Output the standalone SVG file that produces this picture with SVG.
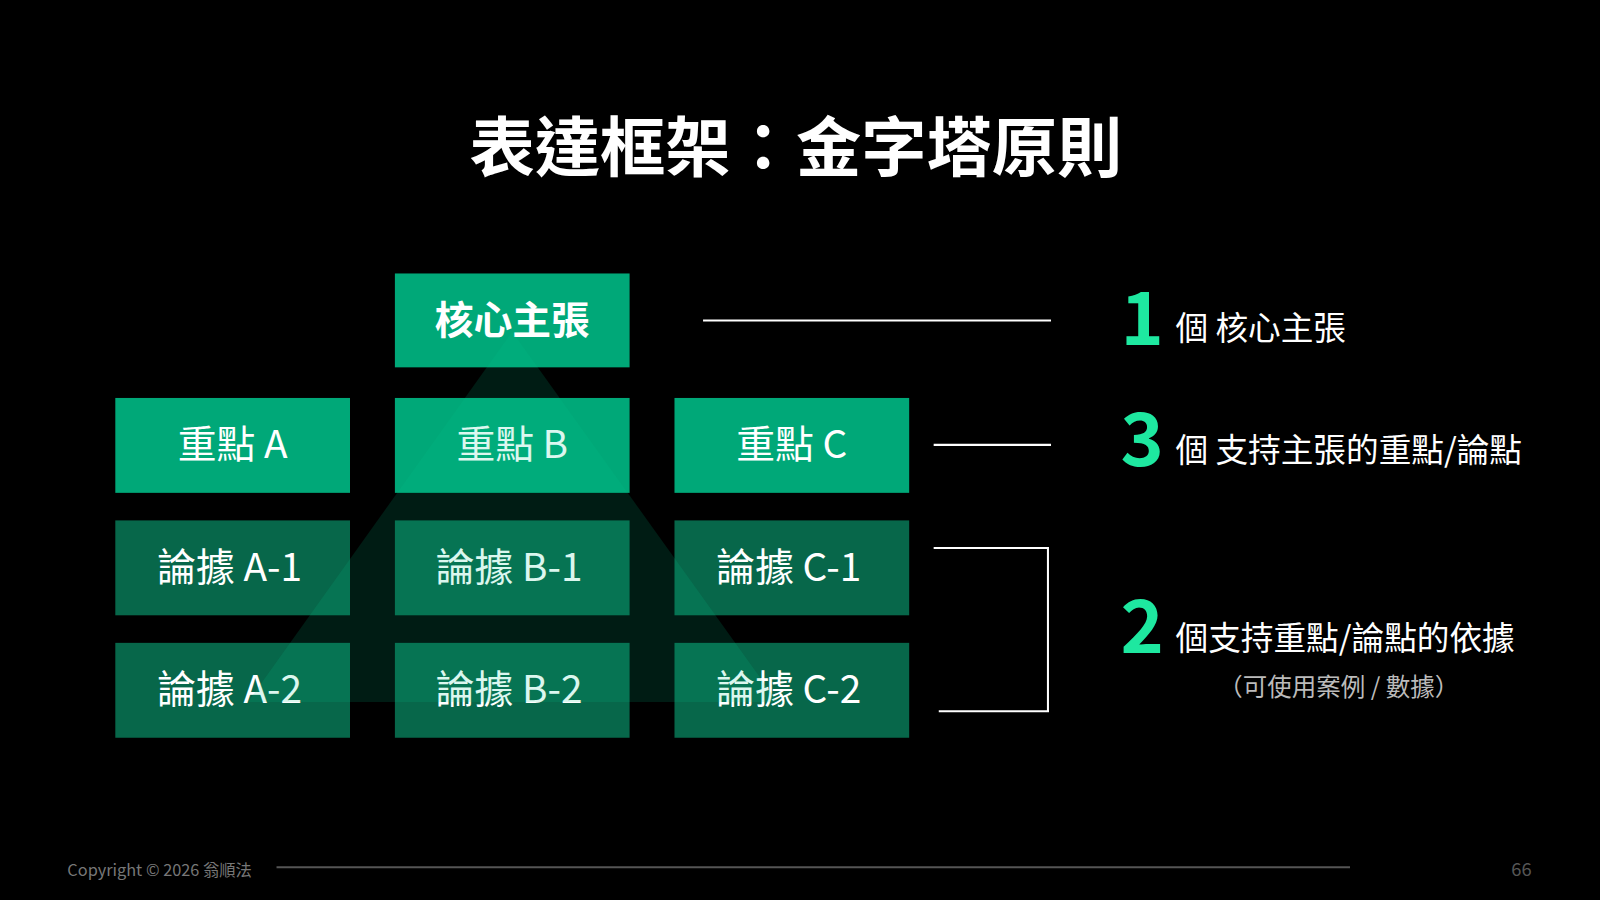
<svg xmlns="http://www.w3.org/2000/svg" width="1600" height="900" viewBox="0 0 1600 900">
<style>
text{font-family:"Noto Sans CJK TC","Noto Sans",sans-serif;fill:#fff}
.hi{fill:#00a878}.lo{fill:#07674a}
.bt{font-size:38px;text-anchor:middle}
.num{font-size:72px;font-weight:bold;fill:#1ee8a0}
.lab{font-size:32px}
.ln{stroke:#fff;stroke-width:2;fill:none}
</style>
<rect width="1600" height="900" fill="#000"/>
<g transform="scale(1.0204)">
<text x="780" y="168" font-size="64" font-weight="bold" text-anchor="middle">表達框架：金字塔原則</text>
<g id="top"><rect class="hi" x="387" y="268" width="230" height="92"/><text class="bt" x="502" y="327" font-weight="bold">核心主張</text></g>
<g id="pA"><rect class="hi" x="113" y="390" width="230" height="93"/><text class="bt" x="228" y="449">重點 A</text></g>
<g id="pB"><rect class="hi" x="387" y="390" width="230" height="93"/><text class="bt" x="502" y="449">重點 B</text></g>
<g id="pC"><rect class="hi" x="661" y="390" width="230" height="93"/><text class="bt" x="776" y="449">重點 C</text></g>
<g id="a1"><rect class="lo" x="113" y="510" width="230" height="93"/><text class="bt" x="225" y="569">論據 A-1</text></g>
<g id="b1"><rect class="lo" x="387" y="510" width="230" height="93"/><text class="bt" x="499" y="569">論據 B-1</text></g>
<g id="c1"><rect class="lo" x="661" y="510" width="230" height="93"/><text class="bt" x="773" y="569">論據 C-1</text></g>
<g id="a2"><rect class="lo" x="113" y="630" width="230" height="93"/><text class="bt" x="225" y="689">論據 A-2</text></g>
<g id="b2"><rect class="lo" x="387" y="630" width="230" height="93"/><text class="bt" x="499" y="689">論據 B-2</text></g>
<g id="c2"><rect class="lo" x="661" y="630" width="230" height="93"/><text class="bt" x="773" y="689">論據 C-2</text></g>
<polygon points="502,325 762,688 243,688" fill="#00c88c" opacity="0.14"/>
<g id="connectors">
<line class="ln" x1="689" y1="314" x2="1030" y2="314"/>
<line class="ln" x1="915" y1="436" x2="1030" y2="436"/>
<polyline class="ln" points="915,537 1027,537 1027,697 920,697"/>
</g>
<g id="r1"><text class="num" x="1098" y="338">1</text><text class="lab" x="1152" y="333">個 核心主張</text></g>
<g id="r3"><text class="num" x="1098" y="457">3</text><text class="lab" x="1152" y="453">個 支持主張的重點/論點</text></g>
<g id="r2"><text class="num" x="1098" y="640">2</text><text class="lab" x="1152" y="637">個支持重點/論點的依據</text>
<text x="1312" y="682" font-size="24" fill="#bbb" text-anchor="middle" style="fill:#bbb">（可使用案例 / 數據）</text></g>
<text x="66" y="858" font-size="16" style="fill:#777">Copyright © 2026 翁順法</text>
<line x1="271" y1="850" x2="1323" y2="850" stroke="#555" stroke-width="2"/>
<text x="1501" y="858" font-size="18" text-anchor="end" style="fill:#555">66</text>
</g>
</svg>
